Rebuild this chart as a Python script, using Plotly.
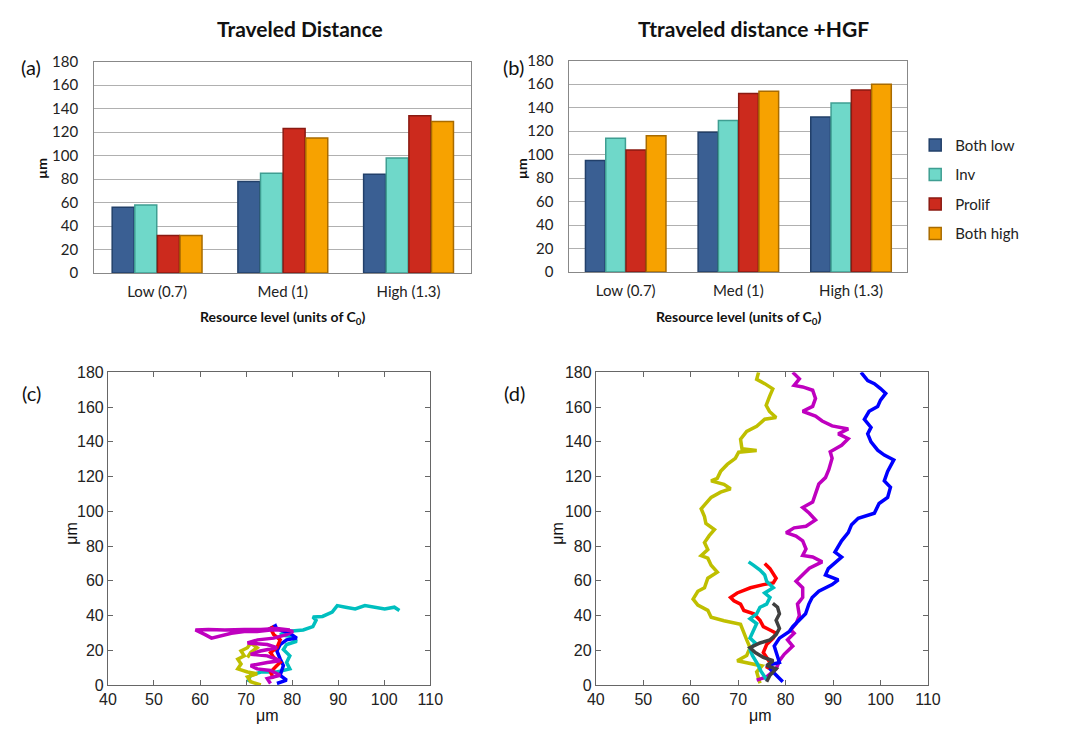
import plotly.graph_objects as go

W, H = 1083, 733

# ---------------- data ----------------
categories = ["Low (0.7)", "Med (1)", "High (1.3)"]
series_names = ["Both low", "Inv", "Prolif", "Both high"]
series_colors = ["#3a5f93", "#6fd8c9", "#cc2a1d", "#f7a200"]
series_edges = ["#22406a", "#3f9e92", "#8a1a12", "#a86b00"]

dist_a = {
    "Both low": [56, 78, 84],
    "Inv": [58, 85, 98],
    "Prolif": [32, 123, 134],
    "Both high": [32, 115, 129],
}
dist_b = {
    "Both low": [95, 119, 132],
    "Inv": [114, 129, 144],
    "Prolif": [104, 152, 155],
    "Both high": [116, 154, 160],
}

# Trajectories, panel (c)
c_cyan_x = [70.3, 71.0, 73.2, 76.7, 79.5, 78.8, 79.5, 78.1, 78.8, 81.0, 79.5, 77.4, 78.8, 82.4, 84.5, 85.2, 84.5, 86.6, 88.7, 89.8, 91.6, 93.7, 95.8, 98.0, 100.1, 102.2, 103.3]
c_cyan_y = [1.9, 5.6, 7.5, 7.5, 9.3, 13.0, 16.8, 20.5, 23.3, 25.2, 28.0, 29.0, 30.8, 31.7, 33.6, 37.3, 39.2, 39.5, 42.0, 45.7, 44.8, 43.8, 45.7, 44.8, 43.8, 44.8, 42.9]
c_blue_x = [76.7, 78.8, 77.4, 78.1, 77.4, 76.7, 77.4, 78.8, 81.0, 79.5, 77.4, 76.0, 76.7, 74.6]
c_blue_y = [0.9, 2.8, 5.6, 11.2, 15.0, 19.6, 23.3, 26.0, 27.0, 29.8, 31.7, 33.6, 34.5, 31.7]
c_red_x = [76.0, 75.3, 76.7, 77.4, 76.0, 75.3, 76.7, 77.4, 76.0, 75.3, 76.0]
c_red_y = [3.7, 7.5, 11.2, 13.0, 15.9, 18.7, 21.5, 26.0, 29.0, 32.6, 33.6]
c_yellow_x = [73.2, 71.0, 70.3, 72.4, 70.3, 68.2, 68.9, 68.2, 69.6, 68.9, 70.3, 71.0, 72.4, 71.0, 70.3]
c_yellow_y = [0.0, 1.9, 4.7, 6.5, 7.5, 9.3, 12.1, 14.9, 16.8, 19.6, 21.5, 24.2, 21.5, 18.7, 15.9]
c_magenta_x = [75.3, 74.6, 77.4, 75.3, 72.4, 71.0, 74.6, 77.4, 74.6, 71.0, 73.1, 76.7, 74.6, 70.3, 72.5, 76.0, 78.8, 80.2, 78.8, 75.3, 72.4, 69.6, 66.8, 64.0, 62.5, 61.1, 59.0, 61.8, 65.4, 69.6, 73.2, 76.7, 79.5]
c_magenta_y = [0.9, 3.7, 5.6, 8.4, 9.3, 11.2, 13.0, 14.0, 16.8, 17.7, 19.6, 21.5, 23.3, 24.2, 26.0, 27.0, 29.0, 30.8, 31.7, 31.7, 30.8, 30.8, 29.8, 28.0, 27.0, 29.0, 31.7, 32.0, 31.7, 32.0, 32.0, 32.6, 31.7]

# Trajectories, panel (d)
d_yellow_x = [74.6, 73.9, 75.0, 71.8, 69.8, 71.8, 72.5, 71.8, 71.2, 70.5, 67.0, 64.3, 63.6, 61.5, 60.5, 61.5, 62.9, 63.6, 65.6, 64.3, 63.6, 62.2, 63.6, 62.9, 63.9, 65.0, 63.2, 62.9, 62.2, 63.2, 64.3, 66.3, 68.4, 67.0, 64.3, 65.6, 66.3, 67.7, 69.4, 70.1, 73.9, 70.8, 70.5, 71.8, 73.9, 75.6, 78.0, 76.6, 75.9, 76.6, 77.3, 75.6, 73.9, 74.3]
d_yellow_y = [1.0, 7.5, 11.0, 13.0, 14.0, 17.0, 21.5, 26.0, 30.0, 35.0, 37.0, 39.0, 43.0, 46.0, 49.5, 54.0, 56.0, 61.5, 65.0, 69.0, 73.0, 74.5, 78.0, 82.0, 86.0, 89.5, 93.0, 97.0, 101.5, 104.5, 108.0, 111.0, 113.0, 115.5, 117.5, 119.0, 123.0, 127.0, 130.5, 134.0, 135.0, 136.0, 141.5, 146.0, 149.0, 153.0, 154.0, 157.5, 161.0, 166.0, 170.5, 173.5, 176.0, 180.0]
d_magenta_x = [73.9, 76.0, 78.0, 78.7, 79.7, 81.5, 80.4, 81.8, 81.1, 82.2, 82.9, 82.5, 83.6, 83.6, 82.2, 83.6, 85.0, 87.7, 85.7, 83.6, 84.3, 83.6, 82.2, 80.1, 81.8, 84.3, 86.3, 85.0, 83.6, 85.7, 86.3, 87.0, 88.4, 89.1, 89.8, 89.4, 91.8, 93.2, 91.1, 93.2, 89.8, 87.7, 86.3, 83.6, 85.7, 86.3, 85.7, 83.6, 81.8, 82.9, 81.5]
d_magenta_y = [2.8, 4.7, 9.3, 14.0, 17.7, 22.4, 26.0, 29.8, 31.7, 35.4, 40.0, 46.6, 50.4, 56.0, 59.7, 63.4, 67.2, 70.9, 73.7, 74.6, 78.3, 83.0, 85.8, 87.7, 90.5, 91.4, 95.0, 98.9, 102.2, 105.4, 110.0, 115.7, 119.4, 124.0, 130.6, 134.3, 138.0, 141.8, 144.6, 147.4, 149.2, 152.0, 154.8, 157.6, 160.4, 165.0, 169.7, 171.6, 172.5, 176.3, 180.0]
d_blue_x = [79.4, 78.0, 76.0, 78.7, 78.0, 77.6, 78.7, 80.8, 81.5, 82.9, 84.2, 84.9, 85.6, 87.0, 89.8, 91.1, 88.4, 89.0, 91.8, 90.4, 91.8, 93.2, 93.9, 95.3, 98.7, 99.7, 101.5, 102.1, 100.8, 101.5, 102.8, 100.8, 99.4, 98.0, 97.3, 98.0, 96.6, 97.6, 99.4, 100.0, 101.1, 100.0, 98.7, 97.3, 95.9]
d_blue_y = [1.9, 5.6, 11.2, 13.0, 18.7, 22.4, 27.0, 30.8, 33.6, 37.3, 41.0, 46.6, 50.4, 54.0, 57.8, 60.6, 63.4, 67.0, 73.7, 76.5, 83.0, 87.7, 92.3, 96.0, 98.9, 104.5, 108.0, 113.8, 117.5, 123.0, 129.6, 132.4, 135.2, 140.0, 144.6, 148.3, 153.0, 157.6, 160.4, 164.0, 167.9, 170.7, 173.5, 175.3, 180.0]
d_red_x = [76.0, 76.7, 75.3, 76.0, 77.4, 78.0, 76.7, 75.3, 74.6, 73.3, 71.2, 70.5, 69.1, 68.4, 69.8, 72.6, 75.3, 77.4, 78.0, 77.4, 76.7, 75.6]
d_red_y = [9.3, 13.0, 18.7, 23.3, 27.0, 29.8, 31.7, 33.6, 37.3, 41.0, 42.9, 46.6, 48.5, 50.4, 53.0, 56.0, 57.8, 58.8, 61.5, 64.4, 67.0, 70.0]
d_cyan_x = [76.0, 74.8, 74.0, 73.0, 72.5, 73.6, 72.5, 73.2, 73.9, 72.5, 73.9, 74.6, 76.0, 76.7, 75.6, 77.4, 76.0, 75.6, 74.6, 73.2, 72.2]
d_cyan_y = [3.0, 8.0, 12.5, 17.0, 20.5, 24.2, 27.0, 31.7, 35.4, 38.2, 41.0, 44.8, 46.6, 50.4, 53.0, 56.0, 59.7, 63.4, 66.2, 69.0, 70.9]
d_gray_x = [76.0, 76.7, 78.0, 76.0, 77.4, 75.3, 73.6, 72.5, 74.6, 76.7, 78.0, 78.7, 78.0, 78.7, 78.3, 77.3]
d_gray_y = [1.9, 5.6, 9.3, 11.2, 14.0, 15.9, 18.7, 21.5, 24.2, 26.0, 29.0, 32.6, 37.3, 41.0, 44.8, 47.0]

# ---------------- figure ----------------
fig = go.Figure()

for i, name in enumerate(series_names):
    fig.add_trace(go.Bar(
        x=categories, y=dist_a[name], name=name, xaxis="x", yaxis="y",
        marker=dict(color=series_colors[i], line=dict(color=series_edges[i], width=1.5)),
        showlegend=False, legendgroup=name))
for i, name in enumerate(series_names):
    fig.add_trace(go.Bar(
        x=categories, y=dist_b[name], name=name, xaxis="x2", yaxis="y2",
        marker=dict(color=series_colors[i], line=dict(color=series_edges[i], width=1.5)),
        showlegend=True, legendgroup=name))

traj_c = [
    (c_cyan_x, c_cyan_y, "#00bfbf"),
    (c_blue_x, c_blue_y, "#0000ff"),
    (c_red_x, c_red_y, "#ff0000"),
    (c_yellow_x, c_yellow_y, "#bfbf00"),
    (c_magenta_x, c_magenta_y, "#bf00bf"),
]
for xs, ys, col in traj_c:
    fig.add_trace(go.Scatter(x=xs, y=ys, mode="lines", xaxis="x3", yaxis="y3",
                             line=dict(color=col, width=3.5), showlegend=False))

traj_d = [
    (d_yellow_x, d_yellow_y, "#bfbf00"),
    (d_magenta_x, d_magenta_y, "#bf00bf"),
    (d_blue_x, d_blue_y, "#0000ff"),
    (d_red_x, d_red_y, "#ff0000"),
    (d_cyan_x, d_cyan_y, "#00bfbf"),
    (d_gray_x, d_gray_y, "#404040"),
]
for xs, ys, col in traj_d:
    fig.add_trace(go.Scatter(x=xs, y=ys, mode="lines", xaxis="x4", yaxis="y4",
                             line=dict(color=col, width=3.5), showlegend=False))

def px_x(p):
    return p / W

def px_y(p):
    return 1 - p / H

bar_font = dict(family="Lato, Open Sans, sans-serif", size=15, color="#222222")
ml_font = dict(family="Liberation Sans, Arial, sans-serif", size=16, color="#222222")

bar_x = dict(showline=True, linecolor="#888888", linewidth=1, mirror=True,
             showgrid=False, tickfont=bar_font, ticks="", fixedrange=True,
             ticklabelstandoff=5)
bar_y = dict(range=[0, 180], dtick=20, showline=True, linecolor="#888888", linewidth=1,
             mirror=True, showgrid=True, gridcolor="#b0b0b0", gridwidth=1,
             tickfont=bar_font, ticks="", zeroline=False, ticklabelstandoff=12)
ml_x = dict(range=[40, 110], dtick=10, showline=True, linecolor="#666666", linewidth=1,
            mirror="allticks", ticks="inside", ticklen=5, tickcolor="#666666",
            showgrid=False, zeroline=False, tickfont=ml_font)
ml_y = dict(range=[0, 180], dtick=20, showline=True, linecolor="#666666", linewidth=1,
            mirror="allticks", ticks="inside", ticklen=5, tickcolor="#666666",
            showgrid=False, zeroline=False, tickfont=ml_font)

fig.update_layout(
    width=W, height=H,
    margin=dict(l=0, r=0, t=0, b=0),
    paper_bgcolor="white", plot_bgcolor="white",
    barmode="group", bargap=0.28, bargroupgap=0.03,
    xaxis=dict(bar_x, domain=[px_x(87), px_x(472)], anchor="y"),
    yaxis=dict(bar_y, domain=[px_y(270), px_y(53)], anchor="x"),
    xaxis2=dict(bar_x, domain=[px_x(572), px_x(917)], anchor="y2"),
    yaxis2=dict(bar_y, domain=[px_y(269), px_y(52)], anchor="x2"),
    xaxis3=dict(ml_x, domain=[px_x(101), px_x(430)], anchor="y3"),
    yaxis3=dict(ml_y, domain=[px_y(693), px_y(372)], anchor="x3"),
    xaxis4=dict(ml_x, domain=[px_x(599), px_x(938)], anchor="y4"),
    yaxis4=dict(ml_y, domain=[px_y(693), px_y(372)], anchor="x4"),
    legend=dict(x=px_x(925), y=px_y(122), xanchor="left", yanchor="top",
                font=dict(family="Lato, Open Sans, sans-serif", size=15, color="#222222"),
                tracegroupgap=7, bgcolor="rgba(0,0,0,0)", itemwidth=30),
    showlegend=True,
)

ann = []
def add_text(text, x, y, size, bold=False, family="Lato, Open Sans, sans-serif", angle=0):
    ann.append(dict(text=("<b>%s</b>" % text) if bold else text, x=px_x(x), y=px_y(y),
                    xref="paper", yref="paper", showarrow=False, xanchor="center",
                    yanchor="middle", textangle=angle,
                    font=dict(family=family, size=size, color="#111111")))

add_text("Traveled Distance", 297, 19, 21, bold=True)
add_text("Ttraveled distance +HGF", 760, 19, 21, bold=True)
add_text("(a)", 22, 59, 20)
add_text("(b)", 515, 59, 20)
add_text("(c)", 23, 393, 20)
add_text("(d)", 516, 393, 20)
add_text("µm", 33, 163, 14, bold=True, angle=-90)
add_text("µm", 523, 163, 14, bold=True, angle=-90)
add_text("Resource level (units of C<sub>0</sub>)", 280, 316, 14, bold=True)
add_text("Resource level (units of C<sub>0</sub>)", 745, 316, 14, bold=True)
add_text("μm", 63, 537, 16, family="Liberation Sans, Arial, sans-serif", angle=-90)
add_text("μm", 559, 537, 16, family="Liberation Sans, Arial, sans-serif", angle=-90)
add_text("μm", 264, 724, 16, family="Liberation Sans, Arial, sans-serif")
add_text("μm", 767, 724, 16, family="Liberation Sans, Arial, sans-serif")
fig.update_layout(annotations=ann)

fig.write_html("out.html")
